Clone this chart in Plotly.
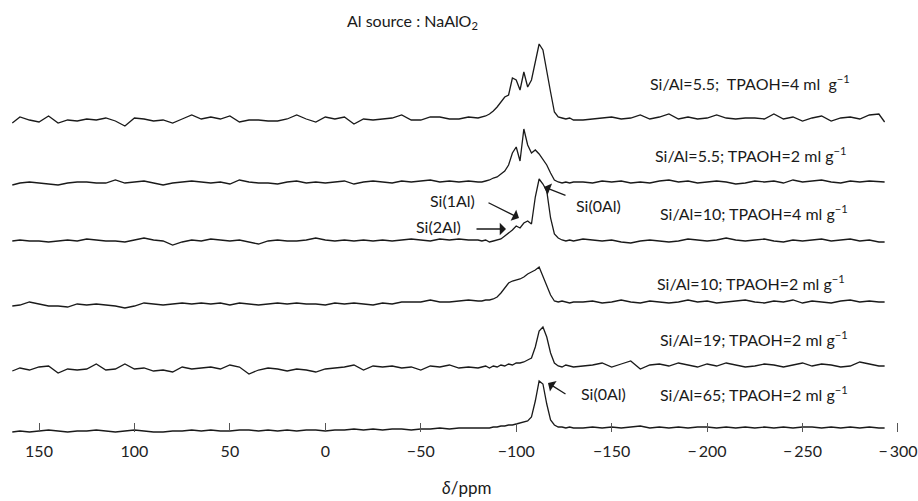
import plotly.graph_objects as go

# ---------------- data ----------------
# chemical shift sampling (ppm)
PPM = [164, 160, 155, 150, 145, 140, 135, 130, 125, 120,
       115, 110, 105, 100, 95, 90, 85, 80, 75, 70,
       65, 60, 55, 50, 45, 40, 35, 30, 25, 20,
       15, 10, 5, 0, -5, -10, -15, -20, -25, -30,
       -35, -40, -45, -50, -55, -60, -65, -70, -75, -80,
       -82, -84, -86, -88, -90, -92, -94, -96, -98, -100,
       -102, -104, -106, -108, -110, -112, -114, -116, -118, -120,
       -122, -124, -126, -128, -130,
       -135, -140, -145, -150, -155, -160, -165, -170, -175, -180,
       -185, -190, -195, -200, -205, -210, -215, -220, -225, -230,
       -235, -240, -245, -250, -255, -260, -265, -270, -275, -280,
       -285, -290, -293]

LABELS = [
    "Si/Al=5.5;  TPAOH=4 ml  g<sup>−1</sup>",
    "Si/Al=5.5; TPAOH=2 ml g<sup>−1</sup>",
    "Si/Al=10; TPAOH=4 ml g<sup>−1</sup>",
    "Si/Al=10; TPAOH=2 ml g<sup>−1</sup>",
    "Si/Al=19; TPAOH=2 ml g<sup>−1</sup>",
    "Si/Al=65; TPAOH=2 ml g<sup>−1</sup>",
]

S55_TPAOH4 = [-3, 3, 0, -2, 4, -3, 0, -1, 1, 0,
              2, -1, -6, 2, 1, -1, 0, -3, 1, 5,
              1, 3, 1, 4, -2, 0, 0, -1, -1, 1,
              5, 1, -2, 3, 1, 3, -4, 1, 0, 1,
              2, 5, 0, 0, 3, 3, 1, 1, 3, 2,
              3, 4, 6, 9, 13, 18, 23, 25, 42, 40,
              30, 48, 33, 40, 58, 76, 70, 47, 28, 8,
              3, 2, 1, 2, 0,
              0, 1, 2, 3, 1, 2, 5, 1, 3, 6,
              1, 3, 1, 2, 5, 2, 1, 2, 2, 1,
              6, 1, 3, -1, 2, 4, -1, 2, 3, 1,
              5, 6, -2]

S55_TPAOH2 = [-2, 0, 1, 0, -1, -2, 0, 1, 1, 0,
              0, 3, 0, 1, 2, 0, -2, 0, 1, 2,
              1, 0, 1, -1, 3, 1, 0, 0, -1, 1,
              2, 0, 1, 0, 1, 2, -1, 1, 2, 1,
              0, 2, 1, 2, 3, 1, 2, 1, 2, 1,
              1, 2, 3, 5, 6, 9, 12, 18, 30, 36,
              22, 54, 38, 30, 33, 29, 24, 18, 10, 3,
              1, 0, 1, 0, 1,
              1, 0, 2, 1, 2, 0, 1, 0, 2, 3,
              1, 2, 0, 1, 2, 1, -1, 0, 2, 1,
              2, 0, 3, 1, 2, 3, 1, 0, 2, 1,
              2, 1, 1]

S10_TPAOH4 = [0, 1, 0, 0, -1, 0, 1, 0, 2, 1,
              0, 0, -1, 1, 3, 1, 0, -4, -1, 1,
              0, 2, 1, 0, 1, -1, -3, 0, 1, 0,
              0, 1, 3, 1, 0, 1, 0, 1, 0, 1,
              0, 1, 2, 1, 0, 2, 1, 2, 1, 1,
              0, 1, -1, 0, 1, 2, 5, 8, 11, 15,
              13, 18, 20, 17, 44, 62, 57, 50, 23, 7,
              3, 1, 0, 1, 0,
              2, 1, 0, 1, -1, -2, 0, 1, 0, -1,
              0, 2, 1, 0, 1, 3, 1, 0, 1, 2,
              0, -1, 1, 0, 1, 2, 0, 1, 2, 0,
              1, -1, -1]

S10_TPAOH2 = [-2, -1, 2, 0, -2, -2, -3, 0, -1, 0,
              -1, -2, -4, -2, 1, 0, -1, 0, 1, 0,
              1, 0, 1, -1, 1, 0, -1, 0, 1, 0,
              1, 0, 0, -1, 1, 0, 1, 0, -1, 1,
              0, 2, 2, 2, 4, 2, 2, 3, 4, 3,
              3, 4, 4, 5, 7, 11, 16, 21, 23, 24,
              25, 27, 30, 32, 34, 37, 28, 19, 9, 3,
              2, 3, 2, 1, 2,
              2, 3, 1, 2, 4, 2, 1, 3, 2, 1,
              2, 4, 2, 3, 1, 2, 3, 4, 2, 1,
              3, 2, 4, 1, 3, 2, 1, 3, 4, 2,
              3, 2, 2]

S19_TPAOH2 = [-2, 1, -1, 2, 3, -4, 0, -1, 0, 5,
              -1, 0, 5, 0, 1, -2, -1, -3, 2, 0,
              1, 2, 0, 4, 2, -5, -1, 1, 0, -2,
              0, -1, -3, 0, 1, 2, 4, -1, 3, 2,
              3, 1, 2, -1, 3, 2, 4, 1, 2, 1,
              2, 3, 1, 3, 2, 4, 3, 5, 4, 6,
              6, 7, 9, 11, 22, 38, 42, 32, 16, 6,
              3, 2, 4, 3, 2,
              3, 4, 6, 2, 5, 8, 0, 4, 5, 3,
              6, 4, 2, 5, 3, 6, 4, 2, 3, 5,
              4, 2, 4, 6, 3, 5, 4, 2, 3, 7,
              5, 3, 3]

S65_TPAOH2 = [-1, 0, -1, 0, 1, 0, -1, 0, 0, 1,
              0, -1, 0, 1, 0, -1, -1, 0, 0, 1,
              0, 1, 0, 0, 1, 1, 0, 1, 0, 1,
              0, 1, 1, 0, 1, 1, 2, 1, 2, 1,
              2, 2, 1, 2, 2, 3, 2, 3, 3, 3,
              3, 3, 3, 4, 4, 5, 5, 6, 6, 7,
              8, 9, 10, 14, 30, 50, 47, 27, 11, 6,
              4, 4, 3, 4, 3,
              3, 4, 3, 4, 3, 4, 5, 3, 4, 3,
              4, 3, 4, 4, 3, 4, 3, 4, 3, 4,
              3, 4, 3, 4, 4, 3, 4, 3, 4, 3,
              4, 3, 3]

SPECTRA = [S55_TPAOH4, S55_TPAOH2, S10_TPAOH4, S10_TPAOH2, S19_TPAOH2, S65_TPAOH2]
# vertical stacking offset of each trace
OFFSETS = [311, 248, 190, 127, 62, 0]

TICK_VALS = [150, 100, 50, 0, -50, -100, -150, -200, -250, -300]
TICK_TEXT = ["150", "100", "50", "0", "−50", "−100", "−150", "−\u2009200", "−\u2009250", "−\u2009300"]

# ---------------- layout geometry ----------------
W, H = 918, 501
ML, MR, MT, MB = 10, 8, 0, 56
PW = W - ML - MR
PH = H - MT - MB
X_RANGE = [165.2, -306.3]
Y_RANGE = [-14, 431]

FONT = "Lato, 'Open Sans', sans-serif"
INK = "#1a1a1a"


def px2ppm(px):
    return X_RANGE[0] + (px - ML) / PW * (X_RANGE[1] - X_RANGE[0])


def py2val(py):
    return Y_RANGE[1] - (py - MT) / PH * (Y_RANGE[1] - Y_RANGE[0])


def paper_x(px):
    return (px - ML) / PW


def paper_y(py):
    return (MT + PH - py) / PH


fig = go.Figure()
for vals, off in zip(SPECTRA, OFFSETS):
    fig.add_trace(go.Scatter(
        x=PPM, y=[v + off for v in vals], mode="lines",
        line=dict(color=INK, width=1.3),
        showlegend=False, hoverinfo="skip"))

annotations = []
# sample labels
label_pos = [(648, 83), (653, 155), (658, 212), (655, 282), (658, 338), (658, 393)]
for txt, (lx, ly) in zip(LABELS, label_pos):
    annotations.append(dict(text=txt, xref="paper", yref="paper",
                            x=paper_x(lx), y=paper_y(ly), xanchor="left", yanchor="middle",
                            showarrow=False, font=dict(family=FONT, size=16, color=INK)))

# header
annotations.append(dict(text="Al source : NaAlO<sub>2</sub>", xref="paper", yref="paper",
                        x=paper_x(412), y=paper_y(22), xanchor="center", yanchor="middle",
                        showarrow=False, font=dict(family=FONT, size=16, color=INK)))

# peak assignments
for txt, (lx, ly) in [("Si(0Al)", (598, 205)), ("Si(0Al)", (603, 393)),
                      ("Si(1Al)", (452, 200)), ("Si(2Al)", (438, 226))]:
    annotations.append(dict(text=txt, xref="paper", yref="paper",
                            x=paper_x(lx), y=paper_y(ly), xanchor="center", yanchor="middle",
                            showarrow=False, font=dict(family=FONT, size=16, color=INK)))

# arrows (tail -> head), in pixel positions converted to data coords
for (tx, ty), (hx, hy) in [((567, 196), (544, 187)), ((567, 395), (548, 383)),
                           ((487, 202), (519, 218)), ((475, 229), (506, 229))]:
    annotations.append(dict(text="", x=px2ppm(hx), y=py2val(hy), xref="x", yref="y",
                            ax=px2ppm(tx), ay=py2val(ty), axref="x", ayref="y",
                            showarrow=True, arrowhead=1, arrowsize=1.6, arrowwidth=1.3,
                            arrowcolor=INK, standoff=0, startstandoff=0))

# axis title
annotations.append(dict(text="<i>δ</i>/ppm", xref="paper", yref="paper",
                        x=paper_x(466), y=paper_y(487), xanchor="center", yanchor="middle",
                        showarrow=False, font=dict(family=FONT, size=17, color=INK)))

fig.update_layout(
    width=W, height=H,
    margin=dict(l=ML, r=MR, t=MT, b=MB, pad=0),
    paper_bgcolor="white", plot_bgcolor="white",
    annotations=annotations,
    xaxis=dict(range=X_RANGE, tickvals=TICK_VALS, ticktext=TICK_TEXT,
               anchor="free", position=(MT + PH - 432) / PH,
               ticks="inside", ticklen=9, tickwidth=1, tickcolor="#555",
               showline=False, showgrid=False, zeroline=False,
               ticklabelstandoff=8,
               tickfont=dict(family=FONT, size=16, color="#222"), fixedrange=True),
    yaxis=dict(range=Y_RANGE, visible=False, fixedrange=True),
)

fig.write_html("out.html", config={"displayModeBar": False},
               post_script="document.body.style.margin='0px';")
